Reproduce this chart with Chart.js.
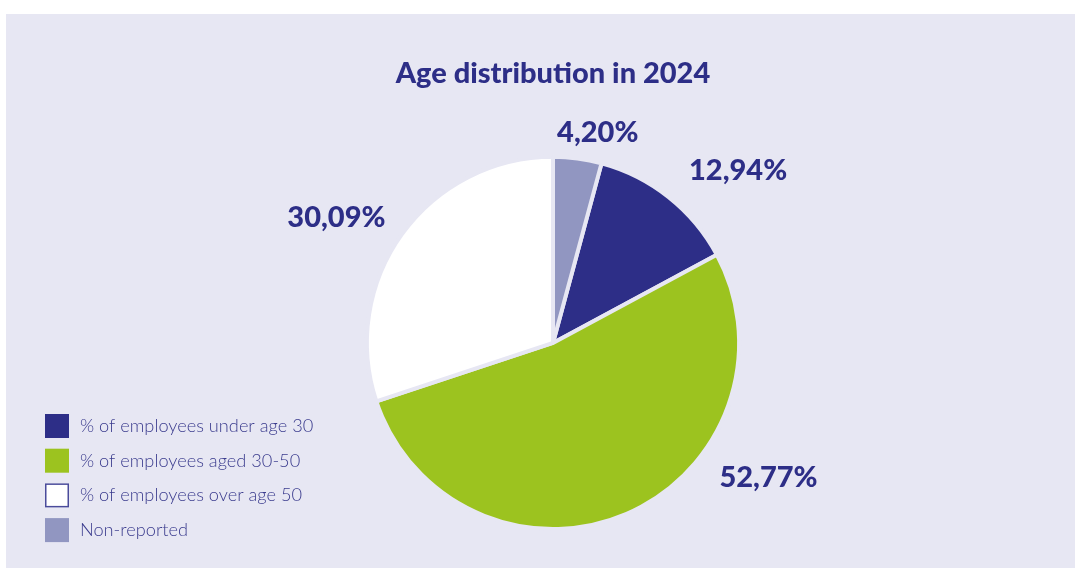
<!DOCTYPE html>
<html>
<head>
<meta charset="utf-8">
<script src="https://cdn.jsdelivr.net/npm/chart.js@4/dist/chart.umd.min.js"></script>
<style>
  html, body { margin: 0; padding: 0; background: #ffffff; }
  #panel { position: absolute; left: 6px; top: 14px; width: 1069px; height: 554px; background: #e7e7f3; }
  #ageChart { display: block; }
</style>
</head>
<body>
<div id="panel"><canvas id="ageChart" width="1069" height="554"></canvas></div>
<script>
const categories = [
	"% of employees under age 30",
	"% of employees aged 30-50",
	"% of employees over age 50",
	"Non-reported"
];
const shares = [12.94, 52.77, 30.09, 4.20];
const shareLabels = ["12,94%", "52,77%", "30,09%", "4,20%"];

const sliceColors = ["#2d2e87", "#9cc31f", "#ffffff", "#9196c1"];
// where each percentage sits: angle from 12 o'clock (deg) and distance beyond the rim (px)
const labelAngles = [47, 122, 300, 12];
const labelGaps = [67, 68, 64, 29];

const navy = "#2d2e87";

const percentLabels = {
	id: "percentLabels",
	afterDatasetsDraw(chart) {
		const ctx = chart.ctx;
		const arcs = chart.getDatasetMeta(0).data;
		ctx.save();
		ctx.font = "900 29px Lato";
		ctx.fillStyle = navy;
		ctx.textAlign = "center";
		ctx.textBaseline = "middle";
		arcs.forEach((arc, i) => {
			const a = labelAngles[i] * Math.PI / 180;
			const d = arc.outerRadius + labelGaps[i];
			ctx.fillText(shareLabels[i], arc.x + Math.sin(a) * d, arc.y - Math.cos(a) * d);
		});
		ctx.restore();
	}
};

const sideLegend = {
	id: "sideLegend",
	afterDraw(chart) {
		const ctx = chart.ctx;
		const colors = chart.data.datasets[0].backgroundColor;
		ctx.save();
		ctx.font = "300 18.2px Lato";
		ctx.textBaseline = "middle";
		chart.data.labels.forEach((label, i) => {
			const y = 400 + i * 34.7;
			ctx.fillStyle = colors[i];
			ctx.fillRect(39, y, 24, 24);
			if (colors[i] === "#ffffff") {
				ctx.strokeStyle = "#4a4b9b";
				ctx.lineWidth = 1.5;
				ctx.strokeRect(39.75, y + 0.75, 22.5, 22.5);
			}
			ctx.fillStyle = "#3b3c8e";
			ctx.fillText(label, 74, y + 12);
		});
		ctx.restore();
	}
};

new Chart(document.getElementById("ageChart"), {
	type: "pie",
	data: {
		labels: categories,
		datasets: [{
			data: shares,
			backgroundColor: sliceColors,
			borderColor: "#e7e7f3",
			borderWidth: 4
		}]
	},
	options: {
		responsive: false,
		animation: false,
		rotation: 4.20 * 3.6,
		layout: { padding: { top: 42, bottom: 37, left: 25, right: 0 } },
		plugins: {
			legend: { display: false },
			tooltip: { enabled: false },
			title: {
				display: true,
				text: "Age distribution in 2024",
				color: navy,
				font: { family: "Lato", size: 29, weight: "900" },
				padding: { top: 0, bottom: 64 }
			}
		}
	},
	plugins: [percentLabels, sideLegend]
});
</script>
</body>
</html>
